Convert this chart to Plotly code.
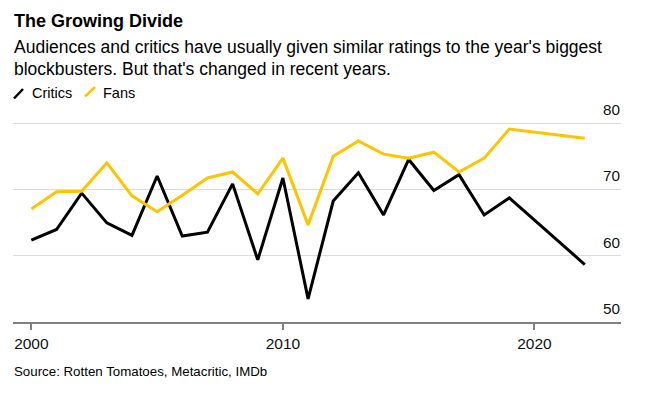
import plotly.graph_objects as go

years = [2000, 2001, 2002, 2003, 2004, 2005, 2006, 2007, 2008, 2009, 2010,
         2011, 2012, 2013, 2014, 2015, 2016, 2017, 2018, 2019, 2022]
critics = [62.4, 64.0, 69.5, 65.0, 63.1, 72.1, 63.0, 63.6, 70.9, 59.4, 71.8,
           53.5, 68.3, 72.6, 66.2, 74.6, 69.9, 72.3, 66.2, 68.8, 58.7]
fans = [67.1, 69.7, 69.8, 74.1, 69.1, 66.7, 69.2, 71.8, 72.7, 69.4, 74.8,
        64.7, 75.1, 77.4, 75.4, 74.8, 75.7, 72.7, 74.8, 79.2, 77.8]

x_ticks = [2000, 2010, 2020]
y_ticks = [50, 60, 70, 80]

FONT = "Liberation Sans, Arial, sans-serif"
BLACK = "#000000"
YELLOW = "#fcc500"

# plot area: left 13, right 621, top 98, bottom 322
L, R, T, B = 13, 621, 98, 322
PW, PH = R - L, B - T


def px(x):
    return (x - L) / PW


def py(y):
    return (B - y) / PH


fig = go.Figure()
fig.add_trace(go.Scatter(x=years, y=critics, mode="lines", name="Critics",
                         line=dict(color=BLACK, width=3), showlegend=False))
fig.add_trace(go.Scatter(x=years, y=fans, mode="lines", name="Fans",
                         line=dict(color=YELLOW, width=3), showlegend=False))

fig.update_layout(
    width=649, height=396,
    margin=dict(l=L, r=649 - R, t=T, b=396 - B),
    paper_bgcolor="white", plot_bgcolor="white",
    font=dict(family=FONT, color="#000"),
    xaxis=dict(range=[1999.27, 2023.44], tickvals=x_ticks, ticktext=[str(v) for v in x_ticks],
               showgrid=False, zeroline=False, showline=True, linecolor="#808080", linewidth=2,
               ticks="outside", ticklen=6, tickcolor="#808080", tickwidth=2,
               tickfont=dict(size=15.5, family=FONT, color="#111")),
    yaxis=dict(range=[50, 83.9], tickvals=y_ticks, side="right", ticklabelposition="inside top",
               ticklabelshift=-3, ticklabelstandoff=-2,
               showgrid=True, gridcolor="#dcdcdc", gridwidth=1, zeroline=False, showline=False,
               ticks="", tickfont=dict(size=15.3, family=FONT, color="#111")),
)

fig.add_annotation(text="<b>The Growing Divide</b>", xref="paper", yref="paper",
                   x=px(11.5), y=py(21), xanchor="left", yanchor="middle",
                   showarrow=False, font=dict(size=18, family=FONT))
fig.add_annotation(text="Audiences and critics have usually given similar ratings to the year's biggest",
                   xref="paper", yref="paper", x=px(11.5), y=py(47.5),
                   xanchor="left", yanchor="middle", align="left", showarrow=False,
                   font=dict(size=17.5, family=FONT))
fig.add_annotation(text="blockbusters. But that's changed in recent years.",
                   xref="paper", yref="paper", x=px(11.5), y=py(68.5),
                   xanchor="left", yanchor="middle", align="left", showarrow=False,
                   font=dict(size=17.5, family=FONT))
fig.add_annotation(text="Critics", xref="paper", yref="paper", x=px(30),
                   y=py(93), xanchor="left", yanchor="middle",
                   showarrow=False, font=dict(size=14.5, family=FONT))
fig.add_annotation(text="Fans", xref="paper", yref="paper", x=px(100.5),
                   y=py(93), xanchor="left", yanchor="middle",
                   showarrow=False, font=dict(size=14.5, family=FONT))
fig.add_annotation(text="Source: Rotten Tomatoes, Metacritic, IMDb", xref="paper", yref="paper",
                   x=px(11.5), y=py(371), xanchor="left", yanchor="middle",
                   showarrow=False, font=dict(size=13.3, family=FONT))

# legend glyphs (diagonal strokes)
fig.add_shape(type="line", xref="paper", yref="paper",
              x0=px(14), y0=py(98.5), x1=px(23), y1=py(89),
              line=dict(color=BLACK, width=2.5))
fig.add_shape(type="line", xref="paper", yref="paper",
              x0=px(85), y0=py(96.5), x1=px(95), y1=py(87),
              line=dict(color=YELLOW, width=2.5))

fig.write_html("out.html", config={"displayModeBar": False},
               post_script="document.body.style.margin='0';")
